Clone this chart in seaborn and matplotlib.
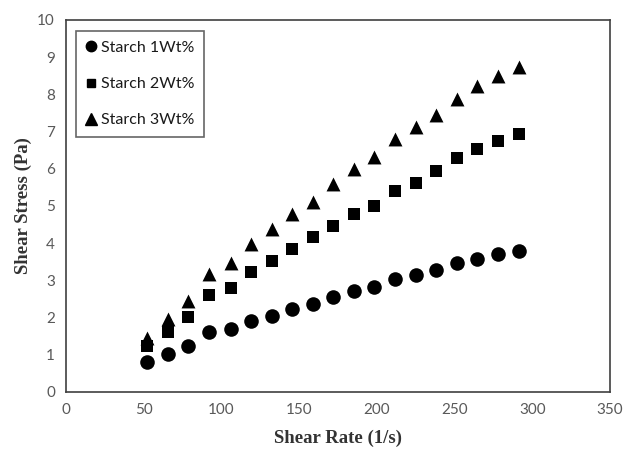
import numpy as np
import pandas as pd
import matplotlib
matplotlib.use("Agg")
import matplotlib.pyplot as plt
import seaborn as sns

shear_rate = [52.3, 65.8, 78.8, 92.3, 105.9, 118.8, 132.3, 145.3, 158.8, 171.7,
              185.3, 198.2, 211.7, 225.3, 238.2, 251.8, 264.7, 278.2, 291.2]
starch_1 = [0.79, 1.02, 1.24, 1.60, 1.69, 1.91, 2.05, 2.23, 2.36, 2.54,
            2.72, 2.83, 3.04, 3.14, 3.28, 3.46, 3.58, 3.71, 3.80]
starch_2 = [1.24, 1.60, 2.00, 2.60, 2.78, 3.23, 3.51, 3.84, 4.16, 4.47,
            4.79, 5.01, 5.40, 5.61, 5.93, 6.30, 6.54, 6.74, 6.93]
starch_3 = [1.45, 1.96, 2.45, 3.17, 3.47, 3.98, 4.37, 4.79, 5.10, 5.60,
            6.00, 6.32, 6.79, 7.12, 7.44, 7.87, 8.22, 8.49, 8.74]
series_names = ["Starch 1Wt%", "Starch 2Wt%", "Starch 3Wt%"]
x_ticks = [0, 50, 100, 150, 200, 250, 300, 350]
y_ticks = [0, 1, 2, 3, 4, 5, 6, 7, 8, 9, 10]

df = pd.DataFrame({
    "rate": shear_rate * 3,
    "stress": starch_1 + starch_2 + starch_3,
    "series": [series_names[0]] * len(shear_rate)
              + [series_names[1]] * len(shear_rate)
              + [series_names[2]] * len(shear_rate),
})

sns.set_theme(style="white")
fig = plt.figure(figsize=(6.23, 4.53), dpi=100)
ax = fig.add_axes([0.106, 0.135, 0.873, 0.821])

markers = {series_names[0]: "o", series_names[1]: "s", series_names[2]: "^"}
sizes_map = {series_names[0]: 110, series_names[1]: 70, series_names[2]: 100}
for name in series_names:
    sub = df[df["series"] == name]
    sns.scatterplot(data=sub, x="rate", y="stress", marker=markers[name],
                    color="black", s=sizes_map[name], edgecolor="black",
                    linewidth=0, ax=ax, label=name, legend=False)

font_family = ["Lato", "DejaVu Sans"]
ax.set_xlim(0, 350)
ax.set_ylim(0, 10)
ax.set_xticks(x_ticks)
ax.set_yticks(y_ticks)
tick_font = dict(family=font_family, size=11, color="#595959")
ax.set_xticklabels([str(t) for t in x_ticks], **tick_font)
ax.set_yticklabels([str(t) for t in y_ticks], **tick_font)
ax.tick_params(axis="both", length=0, pad=8)

for sp in ax.spines.values():
    sp.set_visible(True)
    sp.set_color("#404040")
    sp.set_linewidth(1.2)

ax.set_xlabel("Shear Rate (1/s)", family="Liberation Serif", fontweight="bold",
              fontsize=13.5, color="#333333", labelpad=9)
ax.set_ylabel("Shear Stress (Pa)", family="Liberation Serif", fontweight="bold",
              fontsize=13.5, color="#333333", labelpad=4)

handles = [plt.Line2D([], [], marker=markers[n], color="black", linestyle="none",
                      markersize=ms) for n, ms in zip(series_names, [7.5, 5.5, 8])]
leg = ax.legend(handles, series_names, loc="upper left",
                bbox_to_anchor=(0.012, 0.978), frameon=True, fancybox=False,
                edgecolor="#404040", prop={"family": font_family, "size": 11.5},
                handletextpad=0.25, handlelength=0.7, labelspacing=1.37,
                borderpad=0.6, borderaxespad=0.2)
leg.get_frame().set_linewidth(1.2)
for t in leg.get_texts():
    t.set_color("#1a1a1a")

fig.savefig("out.png", dpi=100)
